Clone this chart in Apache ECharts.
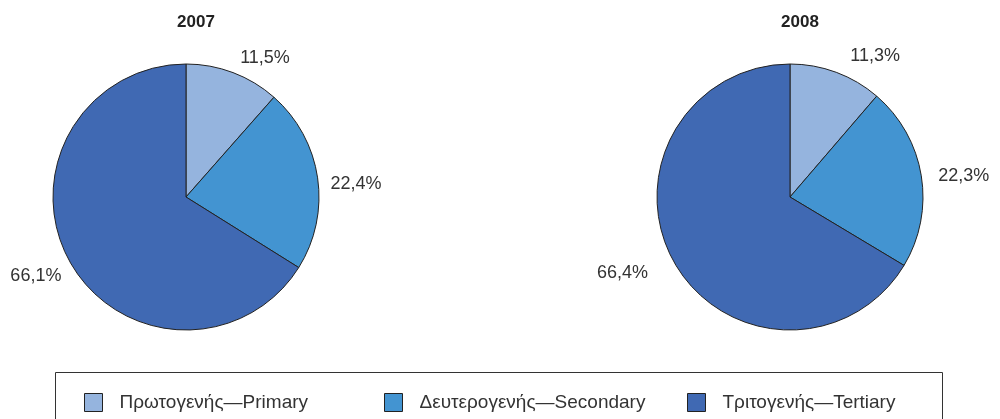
<!DOCTYPE html>
<html>
<head>
<meta charset="utf-8">
<script src="https://cdn.jsdelivr.net/npm/echarts@6/dist/echarts.min.js"></script>
<style>
html,body{margin:0;padding:0;background:#fff;}
#chart{width:1000px;height:419px;}
</style>
</head>
<body>
<div id="chart"></div>
<script>
var categories=['Πρωτογενής—Primary','Δευτερογενής—Secondary','Τριτογενής—Tertiary'];
var years=['2007','2008'];
var values2007=[11.5,22.4,66.1];
var values2008=[11.3,22.3,66.4];
var colors=['#95b4de','#4394d1','#4069b3'];

var myChart=echarts.init(document.getElementById('chart'));

function buildData(vals){
	var arr=[];
	for(var i=0;i<categories.length;i++){
		arr.push({name:categories[i],value:vals[i]});
	}
	return arr;
}

function pieSeries(vals,cx,nudgeX,nudgeY){
	return {
		type:'pie',
		center:[cx,197],
		radius:133,
		startAngle:90,
		clockwise:true,
		silent:true,
		data:buildData(vals),
		itemStyle:{borderColor:'#222',borderWidth:1},
		label:{
			show:true,
			position:'outside',
			formatter:function(p){return p.value.toFixed(1).replace('.',',')+'%';},
			fontFamily:'Liberation Sans',
			fontSize:18,
			color:'#333',
			overflow:'none'
		},
		labelLine:{show:false,length:6,length2:4},
		// nudge labels a little towards the reference spots
		labelLayout:function(p){
			return {dx:nudgeX[p.dataIndex],dy:nudgeY[p.dataIndex]};
		},
		emphasis:{disabled:true}
	};
}

var option={
	backgroundColor:'#fff',
	animation:false,
	color:colors,
	title:[
		{text:years[0],left:191,top:9,textAlign:'center',textStyle:{fontFamily:'Liberation Sans',fontSize:17,fontWeight:'bold',color:'#222'}},
		{text:years[1],left:795,top:9,textAlign:'center',textStyle:{fontFamily:'Liberation Sans',fontSize:17,fontWeight:'bold',color:'#222'}}
	],
	legend:[0,1,2].map(function(i){
		return {
			data:[categories[i]],
			left:[79,379,682][i],
			top:388,
			itemWidth:18,
			itemHeight:18,
			itemGap:0,
			selectedMode:false,
			icon:'rect',
			itemStyle:{borderColor:'#222',borderWidth:1},
			textStyle:{fontFamily:'Liberation Sans',fontSize:19,color:'#333',padding:[0,0,0,12]}
		};
	}),
	graphic:[{
		type:'rect',
		shape:{x:55.5,y:372.5,width:887,height:60},
		style:{fill:'none',stroke:'#333',lineWidth:1},
		silent:true
	}],
	series:[
		pieSeries(values2007,186,[-4,-2,6],[-9,7,12]),
		pieSeries(values2008,790,[3,2,-12],[-11,1,8])
	]
};
myChart.setOption(option);
</script>
</body>
</html>
